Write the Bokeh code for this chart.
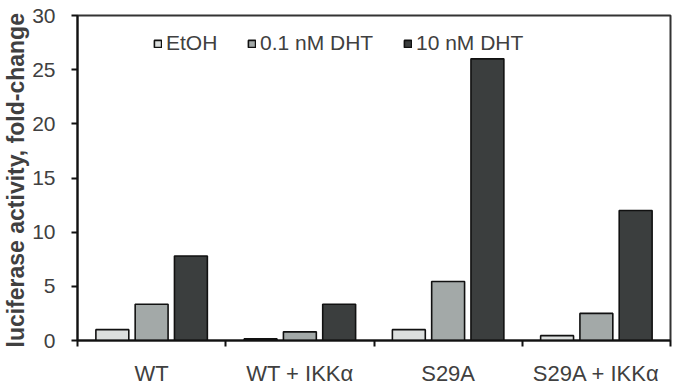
from bokeh.plotting import figure
from bokeh.models import ColumnDataSource, FixedTicker, Legend, LegendItem, Range1d, Title
from bokeh.embed import file_html
from bokeh.resources import INLINE

# Luciferase reporter data: fold-change per construct and treatment
constructs = ["WT", "WT + IKK\u03b1", "S29A", "S29A + IKK\u03b1"]
treatments = ["EtOH", "0.1 nM DHT", "10 nM DHT"]
etoh = [1.0, 0.15, 1.0, 0.45]
dht_01 = [3.35, 0.8, 5.45, 2.5]
dht_10 = [7.8, 3.35, 26.0, 12.0]
y_ticks = [0, 5, 10, 15, 20, 25, 30]

series = [etoh, dht_01, dht_10]
fills = ["#dcdfde", "#a3a9a8", "#3b3e3e"]
offsets = [-0.265, 0.0, 0.265]
bar_w = 0.222

FONT = "Liberation Sans"
TXT = "#404040"

p = figure(width=678, height=389, output_backend="svg", toolbar_location=None,
           x_range=Range1d(0, len(constructs)), y_range=Range1d(0, 30),
           min_border_left=77, min_border_right=8, min_border_top=15,
           min_border_bottom=49)
p.background_fill_color = "white"
p.border_fill_color = "white"
p.outline_line_color = "#333333"
p.outline_line_width = 2
p.grid.visible = False

renderers = []
for vals, col, off in zip(series, fills, offsets):
    src = ColumnDataSource(dict(x=[i + 0.5 + off for i in range(len(constructs))], top=vals))
    r = p.vbar(x="x", top="top", width=bar_w, bottom=0, source=src,
               fill_color=col, line_color="#111111", line_width=1.6)
    renderers.append(r)

# x axis: ticks between groups, labels under group centres
xa = p.xaxis[0]
xa.ticker = FixedTicker(ticks=[i + 0.5 for i in range(len(constructs))],
                        minor_ticks=list(range(len(constructs) + 1)))
xa.major_label_overrides = {i + 0.5: c for i, c in enumerate(constructs)}
xa.major_tick_out = 0
xa.major_tick_in = 0
xa.minor_tick_out = 6
xa.minor_tick_in = 0
xa.minor_tick_line_color = "#111111"
xa.minor_tick_line_width = 2
xa.axis_line_color = "#111111"
xa.axis_line_width = 2
xa.major_label_text_font = FONT
xa.major_label_text_font_size = "22px"
xa.major_label_text_color = TXT
xa.major_label_standoff = 14

ya = p.yaxis[0]
ya.ticker = FixedTicker(ticks=y_ticks, minor_ticks=[])
ya.major_tick_out = 6
ya.major_tick_in = 0
ya.major_tick_line_color = "#111111"
ya.major_tick_line_width = 2
ya.axis_line_color = "#111111"
ya.axis_line_width = 2
ya.major_label_text_font = FONT
ya.major_label_text_font_size = "21px"
ya.major_label_text_color = TXT
ya.major_label_standoff = 16

# vertical y title, starting just below the baseline
p.add_layout(Title(text="luciferase activity, fold-change", align="left", offset=-7,
                   text_font=FONT, text_font_size="23px", text_font_style="bold",
                   text_color=TXT, standoff=1), "left")

# one legend per treatment so each entry can sit at its own spot
legend_x = [76, 170, 326]
for t, r, lx in zip(treatments, renderers, legend_x):
    p.add_layout(Legend(items=[LegendItem(label=t, renderers=[r])],
                        orientation="horizontal", location=(lx, 285),
                        border_line_color=None, background_fill_alpha=0,
                        label_text_font=FONT, label_text_font_size="21px",
                        label_text_color=TXT, glyph_width=9, glyph_height=9,
                        label_standoff=4, padding=0, margin=0))

open("out.html", "w").write(file_html(p, INLINE))
